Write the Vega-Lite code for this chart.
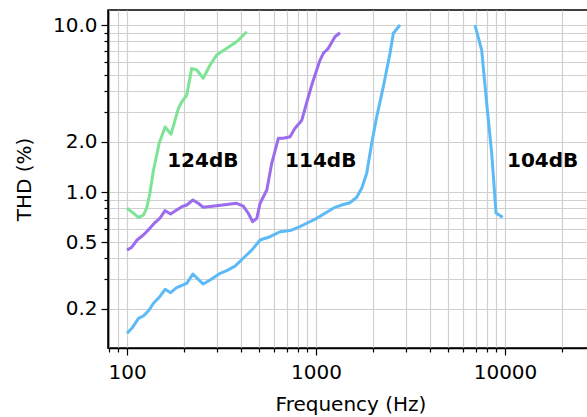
{
  "$schema": "https://vega.github.io/schema/vega-lite/v6.json",
  "autosize": "none",
  "width": 485,
  "height": 338,
  "padding": {"left": 108, "top": 10, "right": 0, "bottom": 69},
  "background": "white",
  "config": {
    "view": {"stroke": "black", "strokeWidth": 1.5},
    "font": "DejaVu Sans",
    "axis": {
      "labelFont": "DejaVu Sans",
      "titleFont": "DejaVu Sans",
      "labelFontSize": 20,
      "titleFontSize": 20,
      "titleFontWeight": "normal",
      "labelColor": "black",
      "titleColor": "black",
      "domainColor": "black",
      "domainWidth": 1.5,
      "tickColor": "black",
      "tickWidth": 1.2,
      "gridColor": "#d0d0d0",
      "gridWidth": 1.2,
      "labelOverlap": false,
      "labelFlush": false
    }
  },
  "datasets": {
    "curves": [
      {"c": "124dB", "s": "g", "f": 100, "t": 0.80},
      {"c": "124dB", "s": "g", "f": 107.6, "t": 0.75},
      {"c": "124dB", "s": "g", "f": 114.8, "t": 0.705},
      {"c": "124dB", "s": "g", "f": 122, "t": 0.728},
      {"c": "124dB", "s": "g", "f": 127, "t": 0.80},
      {"c": "124dB", "s": "g", "f": 132, "t": 0.98},
      {"c": "124dB", "s": "g", "f": 138, "t": 1.35},
      {"c": "124dB", "s": "g", "f": 148, "t": 1.96},
      {"c": "124dB", "s": "g", "f": 159, "t": 2.45},
      {"c": "124dB", "s": "g", "f": 171, "t": 2.22},
      {"c": "124dB", "s": "g", "f": 187, "t": 3.17},
      {"c": "124dB", "s": "g", "f": 195, "t": 3.47},
      {"c": "124dB", "s": "g", "f": 207, "t": 3.81},
      {"c": "124dB", "s": "g", "f": 220, "t": 5.5},
      {"c": "124dB", "s": "g", "f": 234, "t": 5.38},
      {"c": "124dB", "s": "g", "f": 253, "t": 4.8},
      {"c": "124dB", "s": "g", "f": 275, "t": 5.76},
      {"c": "124dB", "s": "g", "f": 298, "t": 6.61},
      {"c": "124dB", "s": "g", "f": 337, "t": 7.25},
      {"c": "124dB", "s": "g", "f": 380, "t": 7.94},
      {"c": "124dB", "s": "g", "f": 430, "t": 9.12},

      {"c": "114dB", "s": "p", "f": 100, "t": 0.449},
      {"c": "114dB", "s": "p", "f": 106, "t": 0.467},
      {"c": "114dB", "s": "p", "f": 113, "t": 0.516},
      {"c": "114dB", "s": "p", "f": 122, "t": 0.553},
      {"c": "114dB", "s": "p", "f": 132, "t": 0.606},
      {"c": "114dB", "s": "p", "f": 141, "t": 0.659},
      {"c": "114dB", "s": "p", "f": 149, "t": 0.696},
      {"c": "114dB", "s": "p", "f": 159, "t": 0.773},
      {"c": "114dB", "s": "p", "f": 170, "t": 0.738},
      {"c": "114dB", "s": "p", "f": 183, "t": 0.78},
      {"c": "114dB", "s": "p", "f": 195, "t": 0.817},
      {"c": "114dB", "s": "p", "f": 207, "t": 0.836},
      {"c": "114dB", "s": "p", "f": 223, "t": 0.896},
      {"c": "114dB", "s": "p", "f": 238, "t": 0.856},
      {"c": "114dB", "s": "p", "f": 253, "t": 0.81},
      {"c": "114dB", "s": "p", "f": 298, "t": 0.828},
      {"c": "114dB", "s": "p", "f": 380, "t": 0.856},
      {"c": "114dB", "s": "p", "f": 412, "t": 0.824},
      {"c": "114dB", "s": "p", "f": 438, "t": 0.746},
      {"c": "114dB", "s": "p", "f": 462, "t": 0.664},
      {"c": "114dB", "s": "p", "f": 486, "t": 0.696},
      {"c": "114dB", "s": "p", "f": 506, "t": 0.856},
      {"c": "114dB", "s": "p", "f": 549, "t": 1.028},
      {"c": "114dB", "s": "p", "f": 583, "t": 1.485},
      {"c": "114dB", "s": "p", "f": 632, "t": 2.097},
      {"c": "114dB", "s": "p", "f": 671, "t": 2.097},
      {"c": "114dB", "s": "p", "f": 729, "t": 2.143},
      {"c": "114dB", "s": "p", "f": 774, "t": 2.41},
      {"c": "114dB", "s": "p", "f": 840, "t": 2.68},
      {"c": "114dB", "s": "p", "f": 911, "t": 3.72},
      {"c": "114dB", "s": "p", "f": 949, "t": 4.37},
      {"c": "114dB", "s": "p", "f": 1050, "t": 6.17},
      {"c": "114dB", "s": "p", "f": 1093, "t": 6.77},
      {"c": "114dB", "s": "p", "f": 1162, "t": 7.25},
      {"c": "114dB", "s": "p", "f": 1260, "t": 8.51},
      {"c": "114dB", "s": "p", "f": 1340, "t": 8.99},

      {"c": "104dB", "s": "b1", "f": 100, "t": 0.1425},
      {"c": "104dB", "s": "b1", "f": 106, "t": 0.1527},
      {"c": "104dB", "s": "b1", "f": 115, "t": 0.1752},
      {"c": "104dB", "s": "b1", "f": 122, "t": 0.181},
      {"c": "104dB", "s": "b1", "f": 130, "t": 0.1946},
      {"c": "104dB", "s": "b1", "f": 138, "t": 0.2156},
      {"c": "104dB", "s": "b1", "f": 149, "t": 0.236},
      {"c": "104dB", "s": "b1", "f": 159, "t": 0.2615},
      {"c": "104dB", "s": "b1", "f": 170, "t": 0.2495},
      {"c": "104dB", "s": "b1", "f": 183, "t": 0.2673},
      {"c": "104dB", "s": "b1", "f": 207, "t": 0.284},
      {"c": "104dB", "s": "b1", "f": 223, "t": 0.323},
      {"c": "104dB", "s": "b1", "f": 253, "t": 0.281},
      {"c": "104dB", "s": "b1", "f": 275, "t": 0.297},
      {"c": "104dB", "s": "b1", "f": 311, "t": 0.326},
      {"c": "104dB", "s": "b1", "f": 337, "t": 0.338},
      {"c": "104dB", "s": "b1", "f": 373, "t": 0.36},
      {"c": "104dB", "s": "b1", "f": 412, "t": 0.401},
      {"c": "104dB", "s": "b1", "f": 457, "t": 0.449},
      {"c": "104dB", "s": "b1", "f": 506, "t": 0.516},
      {"c": "104dB", "s": "b1", "f": 571, "t": 0.54},
      {"c": "104dB", "s": "b1", "f": 645, "t": 0.578},
      {"c": "104dB", "s": "b1", "f": 729, "t": 0.588},
      {"c": "104dB", "s": "b1", "f": 806, "t": 0.615},
      {"c": "104dB", "s": "b1", "f": 893, "t": 0.65},
      {"c": "104dB", "s": "b1", "f": 1009, "t": 0.696},
      {"c": "104dB", "s": "b1", "f": 1116, "t": 0.746},
      {"c": "104dB", "s": "b1", "f": 1260, "t": 0.81},
      {"c": "104dB", "s": "b1", "f": 1395, "t": 0.842},
      {"c": "104dB", "s": "b1", "f": 1514, "t": 0.863},
      {"c": "104dB", "s": "b1", "f": 1642, "t": 0.93},
      {"c": "104dB", "s": "b1", "f": 1745, "t": 1.052},
      {"c": "104dB", "s": "b1", "f": 1855, "t": 1.294},
      {"c": "104dB", "s": "b1", "f": 1971, "t": 1.957},
      {"c": "104dB", "s": "b1", "f": 2095, "t": 2.82},
      {"c": "104dB", "s": "b1", "f": 2270, "t": 4.27},
      {"c": "104dB", "s": "b1", "f": 2464, "t": 6.77},
      {"c": "104dB", "s": "b1", "f": 2565, "t": 8.92},
      {"c": "104dB", "s": "b1", "f": 2783, "t": 10.0},

      {"c": "104dB", "s": "b2", "f": 6937, "t": 10.0},
      {"c": "104dB", "s": "b2", "f": 7527, "t": 7.08},
      {"c": "104dB", "s": "b2", "f": 8000, "t": 3.4},
      {"c": "104dB", "s": "b2", "f": 8504, "t": 1.705},
      {"c": "104dB", "s": "b2", "f": 8963, "t": 0.749},
      {"c": "104dB", "s": "b2", "f": 9723, "t": 0.705}
    ],
    "labels": [
      {"label": "124dB", "f": 163, "t": 1.53},
      {"label": "114dB", "f": 686, "t": 1.53},
      {"label": "104dB", "f": 10250, "t": 1.53}
    ]
  },
  "layer": [
    {
      "data": {"name": "curves"},
      "mark": {"type": "line", "strokeWidth": 3, "strokeJoin": "round", "strokeCap": "butt", "clip": true},
      "encoding": {
        "x": {
          "field": "f",
          "type": "quantitative",
          "scale": {"type": "log", "domain": [79.3, 29220], "nice": false},
          "axis": {
            "title": "Frequency (Hz)",
            "values": [80, 90, 100, 200, 300, 400, 500, 600, 700, 800, 900, 1000, 2000, 3000, 4000, 5000, 6000, 7000, 8000, 9000, 10000, 20000],
            "labelExpr": "indexof([100, 1000, 10000], datum.value) >= 0 ? format(datum.value, 'd') : ''",
            "tickSize": {"condition": {"test": "indexof([100, 1000, 10000], datum.value) >= 0", "value": 7}, "value": 4},
            "labelPadding": 7,
            "titlePadding": 12,
            "grid": true
          }
        },
        "y": {
          "field": "t",
          "type": "quantitative",
          "scale": {"type": "log", "domain": [0.1164, 12.3], "nice": false},
          "axis": {
            "title": "THD (%)",
            "values": [0.2, 0.3, 0.4, 0.5, 0.6, 0.7, 0.8, 0.9, 1, 2, 3, 4, 5, 6, 7, 8, 9, 10],
            "labelExpr": "indexof([0.2, 0.5, 1, 2, 10], datum.value) >= 0 ? format(datum.value, '.1f') : ''",
            "tickSize": {"condition": {"test": "indexof([0.2, 0.5, 1, 2, 10], datum.value) >= 0", "value": 7}, "value": 4},
            "labelPadding": 4,
            "titlePadding": 18,
            "grid": true
          }
        },
        "color": {
          "field": "c",
          "type": "nominal",
          "scale": {"domain": ["124dB", "114dB", "104dB"], "range": ["#7de496", "#9b6ced", "#5cbaf6"]},
          "legend": null
        },
        "detail": {"field": "s", "type": "nominal"}
      }
    },
    {
      "data": {"name": "labels"},
      "mark": {"type": "text", "align": "left", "baseline": "middle", "font": "DejaVu Sans", "fontSize": 20, "fontWeight": "bold", "color": "black"},
      "encoding": {
        "x": {"field": "f", "type": "quantitative"},
        "y": {"field": "t", "type": "quantitative"},
        "text": {"field": "label", "type": "nominal"}
      }
    }
  ]
}
